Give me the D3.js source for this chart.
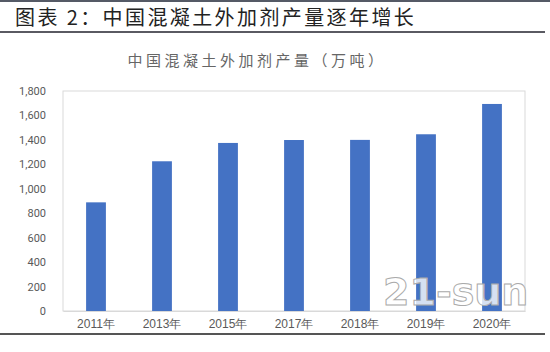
<!DOCTYPE html>
<html>
<head>
<meta charset="utf-8">
<script src="https://cdn.jsdelivr.net/npm/d3@7"></script>
<style>
  body { margin: 0; background: #fff; }
  svg { display: block; font-family: "Noto Sans CJK SC", "Noto Sans", sans-serif; }
</style>
</head>
<body>
<svg id="chart" width="550" height="352"></svg>
<script>
// data
const years = ["2011年", "2013年", "2015年", "2017年", "2018年", "2019年", "2020年"];
const output = [889, 1225, 1375, 1399, 1400, 1446, 1694];
const yTicks = [0, 200, 400, 600, 800, 1000, 1200, 1400, 1600, 1800];

const svg = d3.select("#chart");
const W = 550, H = 352;

// frame lines of the report page
svg.append("rect").attr("x", 0).attr("y", 0).attr("width", W).attr("height", 2).attr("fill", "#555a66");
svg.append("text")
  .attr("x", 15).attr("y", 25)
  .attr("font-size", 20).attr("letter-spacing", 2.4).attr("fill", "#222")
  .text("图表 2：中国混凝土外加剂产量逐年增长");
svg.append("rect").attr("x", 0).attr("y", 31).attr("width", 545).attr("height", 2).attr("fill", "#5a5a62");
svg.append("rect").attr("x", 0).attr("y", 333).attr("width", 545).attr("height", 2).attr("fill", "#555");

// chart title
svg.append("text")
  .attr("x", 257).attr("y", 66)
  .attr("text-anchor", "middle")
  .attr("font-size", 15).attr("letter-spacing", 3.5)
  .attr("fill", "#666")
  .text("中国混凝土外加剂产量（万吨）");

const margin = { top: 91, right: 25, bottom: 41, left: 63 };
const innerW = W - margin.left - margin.right;
const innerH = 311 - margin.top;

const g = svg.append("g").attr("transform", `translate(${margin.left},${margin.top})`);

const x = d3.scaleBand().domain(years).range([0, innerW]).paddingInner(0.7).paddingOuter(0.35);
const y = d3.scaleLinear().domain([0, 1800]).range([innerH, 0]);

// plot border
g.append("rect")
  .attr("width", innerW).attr("height", innerH)
  .attr("fill", "none").attr("stroke", "#d9d9d9").attr("stroke-width", 1);

// y axis
const yAxis = g.append("g")
  .call(d3.axisLeft(y).tickValues(yTicks).tickSize(0).tickPadding(17).tickFormat(d3.format(",")));
yAxis.select(".domain").remove();
yAxis.selectAll("text").attr("font-size", 11).attr("fill", "#595959")
  .attr("font-family", "Roboto, 'Noto Sans', sans-serif");

// x axis
const xAxis = g.append("g")
  .attr("transform", `translate(0,${innerH})`)
  .call(d3.axisBottom(x).tickSize(0).tickPadding(8));
xAxis.select(".domain").attr("stroke", "#d9d9d9");
xAxis.selectAll("text").attr("font-size", 12).attr("fill", "#595959");

// bars
g.selectAll(".bar")
  .data(output)
  .join("rect")
  .attr("class", "bar")
  .attr("x", (d, i) => x(years[i]))
  .attr("width", x.bandwidth())
  .attr("y", d => y(d))
  .attr("height", d => innerH - y(d))
  .attr("fill", "#4472c4");

// watermark
svg.append("text")
  .attr("x", 383).attr("y", 305)
  .attr("font-size", 38).attr("font-weight", "bold")
  .attr("font-family", "'DejaVu Sans', sans-serif")
  .attr("fill", "#fff").attr("fill-opacity", 0.8)
  .attr("stroke", "#aaa").attr("stroke-width", 1)
  .text("21-sun");
</script>
</body>
</html>
